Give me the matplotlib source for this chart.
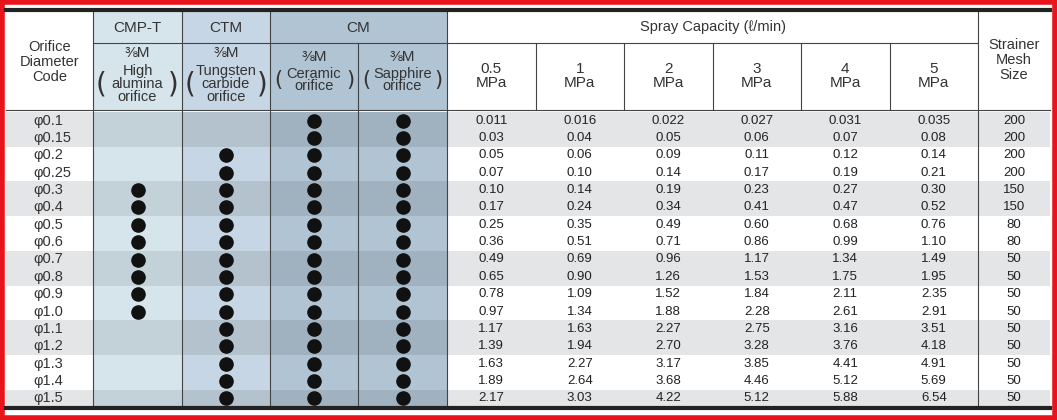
import matplotlib
matplotlib.use("Agg")
import matplotlib.pyplot as plt
from matplotlib.patches import Rectangle

codes = ["φ0.1","φ0.15","φ0.2","φ0.25","φ0.3","φ0.4","φ0.5","φ0.6","φ0.7","φ0.8",
         "φ0.9","φ1.0","φ1.1","φ1.2","φ1.3","φ1.4","φ1.5"]
cmp_t = [0,0,0,0,1,1,1,1,1,1,1,1,0,0,0,0,0]
ctm   = [0,0,1,1,1,1,1,1,1,1,1,1,1,1,1,1,1]
cm_ce = [1]*17
cm_sa = [1]*17
pressures = ["0.5\nMPa","1\nMPa","2\nMPa","3\nMPa","4\nMPa","5\nMPa"]
flow = [
 ["0.011","0.016","0.022","0.027","0.031","0.035"],
 ["0.03","0.04","0.05","0.06","0.07","0.08"],
 ["0.05","0.06","0.09","0.11","0.12","0.14"],
 ["0.07","0.10","0.14","0.17","0.19","0.21"],
 ["0.10","0.14","0.19","0.23","0.27","0.30"],
 ["0.17","0.24","0.34","0.41","0.47","0.52"],
 ["0.25","0.35","0.49","0.60","0.68","0.76"],
 ["0.36","0.51","0.71","0.86","0.99","1.10"],
 ["0.49","0.69","0.96","1.17","1.34","1.49"],
 ["0.65","0.90","1.26","1.53","1.75","1.95"],
 ["0.78","1.09","1.52","1.84","2.11","2.35"],
 ["0.97","1.34","1.88","2.28","2.61","2.91"],
 ["1.17","1.63","2.27","2.75","3.16","3.51"],
 ["1.39","1.94","2.70","3.28","3.76","4.18"],
 ["1.63","2.27","3.17","3.85","4.41","4.91"],
 ["1.89","2.64","3.68","4.46","5.12","5.69"],
 ["2.17","3.03","4.22","5.12","5.88","6.54"],
]
mesh = ["200","200","200","200","150","150","80","80","50","50","50","50","50","50","50","50","50"]
shade = [1,1,0,0,1,1,0,0,1,1,0,0,1,1,0,0,1]

W, H = 1057, 420
fig = plt.figure(figsize=(W/100, H/100), dpi=100)
ax = fig.add_axes([0, 0, 1, 1])
ax.set_xlim(0, W); ax.set_ylim(H, 0); ax.axis("off")
F = dict(family=['Liberation Sans', 'DejaVu Sans'])

xs = [6, 93, 182, 270, 358, 447] + [447 + i*88.5 for i in range(1, 7)] + [1050]
top, h1, h2 = 12, 43, 110
bot = 407
nrow = len(codes)
rh = (bot - h2 - 2) / nrow
y0 = h2 + 2

colc = {1: ("#d6e4ec", "#c3d1d9"), 2: ("#c7d6e4", "#b4c2ce"),
        3: ("#b0c4d4", "#a0b2c0"), 4: ("#b0c4d4", "#a0b2c0")}
grey = "#e4e5e7"
for c in range(1, 5):
    ax.add_patch(Rectangle((xs[c], top), xs[c+1]-xs[c], h2-top, color=colc[c][0], lw=0))
for r in range(nrow):
    y = y0 + r*rh
    if shade[r]:
        ax.add_patch(Rectangle((xs[0], y), xs[-1]-xs[0], rh, color=grey, lw=0))
    for c in range(1, 5):
        ax.add_patch(Rectangle((xs[c], y), xs[c+1]-xs[c], rh, color=colc[c][shade[r]], lw=0))
    ax.text(xs[0]+27, y+rh/2, codes[r], ha="left", va="center", fontsize=10.5, color="#333", **F)
    for c, col in zip(range(1, 5), [cmp_t, ctm, cm_ce, cm_sa]):
        if col[r]:
            ax.plot((xs[c]+xs[c+1])/2, y+rh/2, 'o', color="#111", ms=9.5)
    for j in range(6):
        ax.text((xs[5+j]+xs[6+j])/2, y+rh/2, flow[r][j], ha="center", va="center", fontsize=9.5, color="#222", **F)
    ax.text((xs[11]+xs[12])/2, y+rh/2, mesh[r], ha="center", va="center", fontsize=9.5, color="#222", **F)

ax.text((xs[0]+xs[1])/2, 62, "Orifice\nDiameter\nCode", ha="center", va="center", fontsize=10.5, color="#333", linespacing=1.1, **F)
for c, t in [(1, "CMP-T"), (2, "CTM")]:
    ax.text((xs[c]+xs[c+1])/2, (top+h1)/2, t, ha="center", va="center", fontsize=11, color="#333", **F)
ax.text(xs[4], (top+h1)/2, "CM", ha="center", va="center", fontsize=11, color="#333", **F)
subs = ["High\nalumina\norifice", "Tungsten\ncarbide\norifice", "Ceramic\norifice", "Sapphire\norifice"]
for c, t in zip(range(1, 5), subs):
    cx = (xs[c]+xs[c+1])/2
    n = t.count("\n") + 1
    ax.text(cx, 53 if n == 3 else 57, "⅜M", ha="center", va="center", fontsize=11, color="#333", **F)
    yc = 84 if n == 3 else 80
    ax.text(cx, yc, t, ha="center", va="center", fontsize=10.5, color="#333", linespacing=0.9, **F)
    for dx, ch in [(-36, "("), (36, ")")]:
        ax.text(cx+dx, yc, ch, ha="center", va="center", fontsize=20 if n == 3 else 15,
                color="#333", family="DejaVu Sans")
ax.text((xs[5]+xs[11])/2, (top+h1)/2, "Spray Capacity (ℓ/min)", ha="center", va="center", fontsize=10.5, color="#333", **F)
for j in range(6):
    ax.text((xs[5+j]+xs[6+j])/2, 76, pressures[j], ha="center", va="center", fontsize=11, color="#333", linespacing=1.0, **F)
ax.text((xs[11]+xs[12])/2, 60, "Strainer\nMesh\nSize", ha="center", va="center", fontsize=10.5, color="#333", linespacing=1.1, **F)

lc = "#444"
for i, x in enumerate(xs[1:-1], start=1):
    if i == 4:
        ax.plot([x, x], [h1, bot], color=lc, lw=0.8)
    elif 6 <= i <= 10:
        ax.plot([x, x], [h1, h2], color=lc, lw=0.8)
    else:
        ax.plot([x, x], [top, bot], color=lc, lw=0.8)
ax.plot([xs[1], xs[11]], [h1, h1], color=lc, lw=0.8)
ax.plot([xs[0], xs[-1]], [h2, h2], color=lc, lw=0.8)
ax.plot([xs[0], xs[-1]], [top-2, top-2], color="#222", lw=3)
ax.plot([xs[0], xs[-1]], [bot+1, bot+1], color="#222", lw=3)
ax.add_patch(Rectangle((2, 2), W-4, H-4, fill=False, ec="#e8141c", lw=4))

fig.savefig("out.png", dpi=100)
